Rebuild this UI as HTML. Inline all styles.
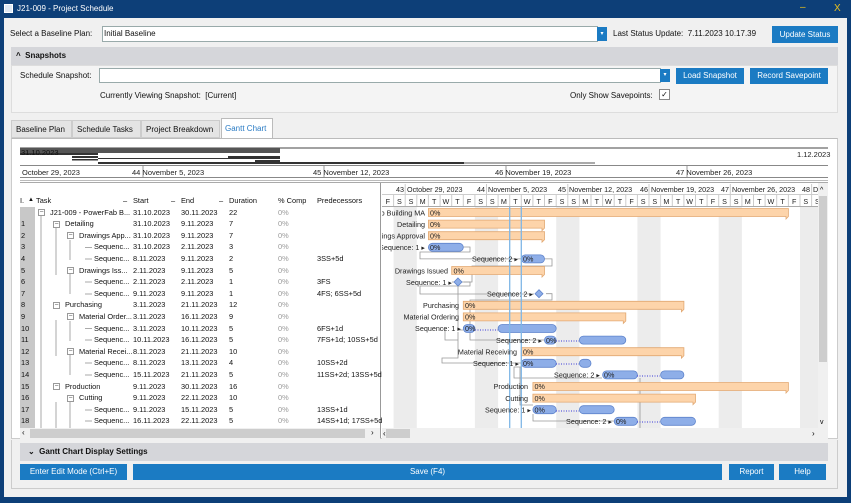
<!DOCTYPE html>
<html><head><meta charset="utf-8"><style>
*{margin:0;padding:0;box-sizing:border-box}
body{width:851px;height:503px;overflow:hidden;background:#0d3f78;font-family:"Liberation Sans",sans-serif;font-size:8px;color:#111;position:relative}
.a{position:absolute;white-space:nowrap}
.btn{position:absolute;background:#1b7bc3;color:#fff;text-align:center;font-size:8px}
.inp{position:absolute;background:#fff;border:1px solid #9aa;}
.dd{position:absolute;background:#1b7bc3;color:#fff;font-size:6px;text-align:center}
.row{position:absolute;left:20px;width:358px;height:12px;font-size:7.4px}
.row span{position:absolute;top:0;white-space:nowrap}
.i{left:1px}.s{left:113px}.e{left:161px}.d{left:209px}.p{left:258px;color:#9a9a9a}.r{left:297px}
.box{position:absolute;width:7px;height:7px;border:1px solid #999;background:#fff;font-size:7px;line-height:5px;text-align:center;color:#555}
</style></head><body>
<div class="a" style="left:4px;top:4px;width:9px;height:9px;background:#dfe8f3;border:1px solid #fff"></div>
<div class="a" style="left:17px;top:4px;color:#fff;font-size:8px">J21-009 - Project Schedule</div>
<div class="a" style="left:800px;top:2px;color:#e8c020;font-size:10px">–</div>
<div class="a" style="left:834px;top:3px;color:#e8c020;font-size:10px">X</div>
<div class="a" style="left:4px;top:18px;width:843px;height:479px;background:#f0f0f0"></div>
<div class="a" style="left:10px;top:29px">Select a Baseline Plan:</div>
<div class="inp" style="left:102px;top:26px;width:496px;height:16px"></div>
<div class="a" style="left:104px;top:29px">Initial Baseline</div>
<div class="dd" style="left:597px;top:27px;width:10px;height:14px;line-height:14px">▾</div>
<div class="a" style="left:613px;top:29px">Last Status Update:&nbsp; 7.11.2023 10.17.39</div>
<div class="btn" style="left:772px;top:26px;width:66px;height:17px;line-height:17px">Update Status</div>
<div class="a" style="left:11px;top:47px;width:827px;height:18px;background:#d5d6da"></div>
<div class="a" style="left:16px;top:51px;font-weight:bold">^&nbsp; Snapshots</div>
<div class="a" style="left:11px;top:65px;width:827px;height:48px;background:#f4f4f4;border:1px solid #ddd"></div>
<div class="a" style="left:20px;top:71px">Schedule Snapshot:</div>
<div class="inp" style="left:99px;top:68px;width:562px;height:15px"></div>
<div class="dd" style="left:660px;top:69px;width:10px;height:13px;line-height:13px">▾</div>
<div class="btn" style="left:676px;top:68px;width:68px;height:16px;line-height:16px">Load Snapshot</div>
<div class="btn" style="left:750px;top:68px;width:78px;height:16px;line-height:16px">Record Savepoint</div>
<div class="a" style="left:100px;top:91px">Currently Viewing Snapshot:&nbsp; [Current]</div>
<div class="a" style="left:570px;top:91px">Only Show Savepoints:</div>
<div class="a" style="left:659px;top:89px;width:11px;height:11px;background:#fff;border:1px solid #888;font-size:8px;line-height:9px;text-align:center">✓</div>
<div class="a" style="left:11px;top:120px;width:61px;height:18px;background:#e4e4e4;border:1px solid #ccc;padding:4px 0 0 4px">Baseline Plan</div>
<div class="a" style="left:72px;top:120px;width:69px;height:18px;background:#e4e4e4;border:1px solid #ccc;padding:4px 0 0 4px">Schedule Tasks</div>
<div class="a" style="left:141px;top:120px;width:79px;height:18px;background:#e4e4e4;border:1px solid #ccc;padding:4px 0 0 4px">Project Breakdown</div>
<div class="a" style="left:221px;top:118px;width:52px;height:21px;background:#fff;border:1px solid #bbb;border-bottom:none;padding:5px 0 0 3px;color:#2a7bc4">Gantt Chart</div>
<div class="a" style="left:11px;top:138px;width:827px;height:301px;background:#fff;border:1px solid #ccc;border-top:1px solid #bbb"></div>
<svg class="a" style="left:0;top:0" width="851" height="503">
<line x1="20" y1="148" x2="828" y2="148" stroke="#444" stroke-width="1"/>
<rect x="20" y="148" width="260" height="5" fill="#555"/>
<rect x="20" y="153" width="78" height="2" fill="#333"/>
<rect x="72" y="156" width="26" height="2" fill="#333"/>
<rect x="228" y="156" width="52" height="2" fill="#333"/>
<rect x="72" y="159" width="26" height="1.5" fill="#333"/>
<rect x="98" y="158" width="182" height="1" fill="#333"/>
<rect x="255" y="160" width="25" height="2" fill="#333"/>
<rect x="98" y="162" width="366" height="2" fill="#333"/>
<rect x="464" y="162.5" width="131" height="1" fill="#555"/>
<line x1="20" y1="165.5" x2="828" y2="165.5" stroke="#888"/>
<line x1="20" y1="177.5" x2="828" y2="177.5" stroke="#888"/>
<line x1="20" y1="180.5" x2="828" y2="180.5" stroke="#bbb"/>
<g stroke="#999"><line x1="143" y1="166" x2="143" y2="177"/><line x1="324" y1="166" x2="324" y2="177"/><line x1="506" y1="166" x2="506" y2="177"/><line x1="687" y1="166" x2="687" y2="177"/></g>
<g font-size="7.5" fill="#222" font-family="Liberation Sans, sans-serif">
<text x="21" y="155" fill="#111">31.10.2023</text>
<text x="797" y="157">1.12.2023</text>
<text x="22" y="175">October 29, 2023</text>
<text x="132" y="175">44 November 5, 2023</text>
<text x="313" y="175">45 November 12, 2023</text>
<text x="495" y="175">46 November 19, 2023</text>
<text x="676" y="175">47 November 26, 2023</text>
</g>
<line x1="380.5" y1="182" x2="380.5" y2="438" stroke="#999"/>
<line x1="20" y1="182.5" x2="828" y2="182.5" stroke="#aaa"/>
</svg>
<div class="a" style="left:20px;top:207px;width:15px;height:221px;background:#c8c8c8"></div>
<div class="row" style="top:196px"><span style="left:0">I.</span><span style="left:8px;font-size:6px;top:1px">▲</span><span style="left:16px">Task</span><span style="left:103px">–</span><span class="s">Start</span><span style="left:151px">–</span><span class="e">End</span><span style="left:199px">–</span><span class="d">Duration</span><span style="left:258px">% Comp</span><span class="r">Predecessors</span></div>
<svg class="a" style="left:0;top:0" width="380" height="430">
<g stroke="#aaa" fill="none">
<line x1="41" y1="216" x2="41" y2="428"/>
<line x1="56" y1="228" x2="56" y2="275"/><line x1="56" y1="320" x2="56" y2="356"/><line x1="56" y1="402" x2="56" y2="428"/>
<line x1="70" y1="240" x2="70" y2="260"/><line x1="70" y1="274" x2="70" y2="294"/><line x1="70" y1="321" x2="70" y2="341"/><line x1="70" y1="355" x2="70" y2="375"/><line x1="70" y1="402" x2="70" y2="428"/>
<line x1="85" y1="247.5" x2="92" y2="247.5"/><line x1="85" y1="259" x2="92" y2="259"/><line x1="85" y1="282" x2="92" y2="282"/><line x1="85" y1="294" x2="92" y2="294"/><line x1="85" y1="328.5" x2="92" y2="328.5"/><line x1="85" y1="340" x2="92" y2="340"/><line x1="85" y1="363" x2="92" y2="363"/><line x1="85" y1="375" x2="92" y2="375"/><line x1="85" y1="410" x2="92" y2="410"/><line x1="85" y1="421" x2="92" y2="421"/>
</g>
</svg>
<div class="box" style="left:38px;top:209px">−</div>
<div class="box" style="left:53px;top:221px">−</div>
<div class="box" style="left:67px;top:232px">−</div>
<div class="box" style="left:67px;top:267px">−</div>
<div class="box" style="left:53px;top:302px">−</div>
<div class="box" style="left:67px;top:313px">−</div>
<div class="box" style="left:67px;top:348px">−</div>
<div class="box" style="left:53px;top:383px">−</div>
<div class="box" style="left:67px;top:395px">−</div>
<div class="row" style="top:207.5px"><span class="i"></span><span style="left:30px">J21-009 - PowerFab B...</span><span class="s">31.10.2023</span><span class="e">30.11.2023</span><span class="d">22</span><span class="p">0%</span></div>
<div class="row" style="top:219.1px"><span class="i">1</span><span style="left:45px">Detailing</span><span class="s">31.10.2023</span><span class="e">9.11.2023</span><span class="d">7</span><span class="p">0%</span></div>
<div class="row" style="top:230.7px"><span class="i">2</span><span style="left:59px">Drawings App...</span><span class="s">31.10.2023</span><span class="e">9.11.2023</span><span class="d">7</span><span class="p">0%</span></div>
<div class="row" style="top:242.3px"><span class="i">3</span><span style="left:74px">Sequenc...</span><span class="s">31.10.2023</span><span class="e">2.11.2023</span><span class="d">3</span><span class="p">0%</span></div>
<div class="row" style="top:253.9px"><span class="i">4</span><span style="left:74px">Sequenc...</span><span class="s">8.11.2023</span><span class="e">9.11.2023</span><span class="d">2</span><span class="p">0%</span><span class="r">3SS+5d</span></div>
<div class="row" style="top:265.5px"><span class="i">5</span><span style="left:59px">Drawings Iss...</span><span class="s">2.11.2023</span><span class="e">9.11.2023</span><span class="d">5</span><span class="p">0%</span></div>
<div class="row" style="top:277.1px"><span class="i">6</span><span style="left:74px">Sequenc...</span><span class="s">2.11.2023</span><span class="e">2.11.2023</span><span class="d">1</span><span class="p">0%</span><span class="r">3FS</span></div>
<div class="row" style="top:288.7px"><span class="i">7</span><span style="left:74px">Sequenc...</span><span class="s">9.11.2023</span><span class="e">9.11.2023</span><span class="d">1</span><span class="p">0%</span><span class="r">4FS; 6SS+5d</span></div>
<div class="row" style="top:300.3px"><span class="i">8</span><span style="left:45px">Purchasing</span><span class="s">3.11.2023</span><span class="e">21.11.2023</span><span class="d">12</span><span class="p">0%</span></div>
<div class="row" style="top:311.9px"><span class="i">9</span><span style="left:59px">Material Order...</span><span class="s">3.11.2023</span><span class="e">16.11.2023</span><span class="d">9</span><span class="p">0%</span></div>
<div class="row" style="top:323.5px"><span class="i">10</span><span style="left:74px">Sequenc...</span><span class="s">3.11.2023</span><span class="e">10.11.2023</span><span class="d">5</span><span class="p">0%</span><span class="r">6FS+1d</span></div>
<div class="row" style="top:335.1px"><span class="i">11</span><span style="left:74px">Sequenc...</span><span class="s">10.11.2023</span><span class="e">16.11.2023</span><span class="d">5</span><span class="p">0%</span><span class="r">7FS+1d; 10SS+5d</span></div>
<div class="row" style="top:346.7px"><span class="i">12</span><span style="left:59px">Material Recei...</span><span class="s">8.11.2023</span><span class="e">21.11.2023</span><span class="d">10</span><span class="p">0%</span></div>
<div class="row" style="top:358.3px"><span class="i">13</span><span style="left:74px">Sequenc...</span><span class="s">8.11.2023</span><span class="e">13.11.2023</span><span class="d">4</span><span class="p">0%</span><span class="r">10SS+2d</span></div>
<div class="row" style="top:369.9px"><span class="i">14</span><span style="left:74px">Sequenc...</span><span class="s">15.11.2023</span><span class="e">21.11.2023</span><span class="d">5</span><span class="p">0%</span><span class="r">11SS+2d; 13SS+5d</span></div>
<div class="row" style="top:381.5px"><span class="i">15</span><span style="left:45px">Production</span><span class="s">9.11.2023</span><span class="e">30.11.2023</span><span class="d">16</span><span class="p">0%</span></div>
<div class="row" style="top:393.1px"><span class="i">16</span><span style="left:59px">Cutting</span><span class="s">9.11.2023</span><span class="e">22.11.2023</span><span class="d">10</span><span class="p">0%</span></div>
<div class="row" style="top:404.7px"><span class="i">17</span><span style="left:74px">Sequenc...</span><span class="s">9.11.2023</span><span class="e">15.11.2023</span><span class="d">5</span><span class="p">0%</span><span class="r">13SS+1d</span></div>
<div class="row" style="top:416.3px"><span class="i">18</span><span style="left:74px">Sequenc...</span><span class="s">16.11.2023</span><span class="e">22.11.2023</span><span class="d">5</span><span class="p">0%</span><span class="r">14SS+1d; 17SS+5d</span></div>
<div class="a" style="left:20px;top:428px;width:360px;height:11px;background:#f0f0f0"></div>
<div class="a" style="left:30px;top:429px;width:335px;height:9px;background:#cdcdcd"></div>
<div class="a" style="left:22px;top:428px;font-size:8px">‹</div>
<div class="a" style="left:371px;top:428px;font-size:8px">›</div>
<svg class="a" style="left:382px;top:183px" width="446" height="256" viewBox="382 183 446 256" font-family="Liberation Sans, sans-serif" font-size="7.2">
<rect x="382" y="183" width="446" height="256" fill="#fff"/>
<g fill="#ececec">
<rect x="393.6" y="207" width="23.2" height="221"/><rect x="474.9" y="207" width="23.2" height="221"/><rect x="556.2" y="207" width="23.2" height="221"/><rect x="637.4" y="207" width="23.2" height="221"/><rect x="718.7" y="207" width="23.2" height="221"/><rect x="800" y="207" width="18" height="221"/>
</g>
<line x1="382" y1="194.5" x2="818" y2="194.5" stroke="#ccc"/>
<line x1="382" y1="206.5" x2="818" y2="206.5" stroke="#aaa"/>
<g stroke="#ccc">
<line x1="405.2" y1="184" x2="405.2" y2="206"/><line x1="486.5" y1="184" x2="486.5" y2="206"/><line x1="567.8" y1="184" x2="567.8" y2="206"/><line x1="649" y1="184" x2="649" y2="206"/><line x1="730.3" y1="184" x2="730.3" y2="206"/><line x1="811.6" y1="184" x2="811.6" y2="206"/>
<line x1="393.6" y1="195" x2="393.6" y2="206"/><line x1="416.8" y1="195" x2="416.8" y2="206"/><line x1="428.4" y1="195" x2="428.4" y2="206"/><line x1="440.1" y1="195" x2="440.1" y2="206"/><line x1="451.7" y1="195" x2="451.7" y2="206"/><line x1="463.3" y1="195" x2="463.3" y2="206"/><line x1="474.9" y1="195" x2="474.9" y2="206"/><line x1="498.1" y1="195" x2="498.1" y2="206"/><line x1="509.7" y1="195" x2="509.7" y2="206"/><line x1="521.3" y1="195" x2="521.3" y2="206"/><line x1="532.9" y1="195" x2="532.9" y2="206"/><line x1="544.5" y1="195" x2="544.5" y2="206"/><line x1="556.2" y1="195" x2="556.2" y2="206"/><line x1="579.4" y1="195" x2="579.4" y2="206"/><line x1="591" y1="195" x2="591" y2="206"/><line x1="602.6" y1="195" x2="602.6" y2="206"/><line x1="614.2" y1="195" x2="614.2" y2="206"/><line x1="625.8" y1="195" x2="625.8" y2="206"/><line x1="637.4" y1="195" x2="637.4" y2="206"/><line x1="660.6" y1="195" x2="660.6" y2="206"/><line x1="672.3" y1="195" x2="672.3" y2="206"/><line x1="683.9" y1="195" x2="683.9" y2="206"/><line x1="695.5" y1="195" x2="695.5" y2="206"/><line x1="707.1" y1="195" x2="707.1" y2="206"/><line x1="718.7" y1="195" x2="718.7" y2="206"/><line x1="741.9" y1="195" x2="741.9" y2="206"/><line x1="753.5" y1="195" x2="753.5" y2="206"/><line x1="765.1" y1="195" x2="765.1" y2="206"/><line x1="776.7" y1="195" x2="776.7" y2="206"/><line x1="788.4" y1="195" x2="788.4" y2="206"/><line x1="800" y1="195" x2="800" y2="206"/><line x1="823.2" y1="195" x2="823.2" y2="206"/>
</g>
<g fill="#222" font-size="7.2">
<text x="404" y="192" text-anchor="end">43</text><text x="407" y="192">October 29, 2023</text>
<text x="485" y="192" text-anchor="end">44</text><text x="488" y="192">November 5, 2023</text>
<text x="566" y="192" text-anchor="end">45</text><text x="569" y="192">November 12, 2023</text>
<text x="648" y="192" text-anchor="end">46</text><text x="651" y="192">November 19, 2023</text>
<text x="729" y="192" text-anchor="end">47</text><text x="732" y="192">November 26, 2023</text>
<text x="810" y="192" text-anchor="end">48</text><text x="813" y="192">D</text>
</g>
<g fill="#222" font-size="7.2" text-anchor="middle">
<text x="387.8" y="204">F</text><text x="399.4" y="204">S</text><text x="411" y="204">S</text><text x="422.6" y="204">M</text><text x="434.2" y="204">T</text><text x="445.9" y="204">W</text><text x="457.5" y="204">T</text>
<text x="469.1" y="204">F</text><text x="480.7" y="204">S</text><text x="492.3" y="204">S</text><text x="503.9" y="204">M</text><text x="515.5" y="204">T</text><text x="527.1" y="204">W</text><text x="538.7" y="204">T</text>
<text x="550.3" y="204">F</text><text x="562" y="204">S</text><text x="573.6" y="204">S</text><text x="585.2" y="204">M</text><text x="596.8" y="204">T</text><text x="608.4" y="204">W</text><text x="620" y="204">T</text>
<text x="631.6" y="204">F</text><text x="643.2" y="204">S</text><text x="654.8" y="204">S</text><text x="666.4" y="204">M</text><text x="678.1" y="204">T</text><text x="689.7" y="204">W</text><text x="701.3" y="204">T</text>
<text x="712.9" y="204">F</text><text x="724.5" y="204">S</text><text x="736.1" y="204">S</text><text x="747.7" y="204">M</text><text x="759.3" y="204">T</text><text x="770.9" y="204">W</text><text x="782.6" y="204">T</text>
<text x="794.2" y="204">F</text><text x="805.8" y="204">S</text><text x="817.4" y="204">S</text>
</g>
<g stroke="#999" fill="none" stroke-width="0.8">
<path d="M463 247 H470 V252 H420 V258.9 H521"/>
<path d="M544 258.9 H552 V266 H472 V282 H452"/>
<path d="M464 282 H470 V286 H420 V294 H534"/>
<path d="M546 293.7 H552 V300 H470 V340 H544"/>
<path d="M458 286 V330 H463"/>
<path d="M445 328.5 V340 H458"/>
<path d="M458 332 V358 H442 V363 H521"/>
<path d="M521 367 H514 V378 H602"/>
<path d="M520 367 V405 H533"/>
<path d="M533 414 V421 H614"/>
<path d="M640 378 V428"/>
</g>
<g fill="#fdd4aa" stroke="#e2a872" stroke-width="0.8">
<path d="M428.4 208.5 H788.4 V216.5 L786 219 V216.5 H428.4 Z"/>
<path d="M428.4 220.1 H544.5 V228.1 L542 230.6 V228.1 H428.4 Z"/>
<path d="M428.4 231.7 H544.5 V239.7 L542 242.2 V239.7 H428.4 Z"/>
<path d="M451.7 266.5 H544.5 V274.5 L542 277 V274.5 H451.7 Z"/>
<path d="M463.3 301.3 H683.9 V309.3 L681.4 311.8 V309.3 H463.3 Z"/>
<path d="M463.3 312.9 H625.8 V320.9 L623.3 323.4 V320.9 H463.3 Z"/>
<path d="M521.3 347.7 H683.9 V355.7 L681.4 358.2 V355.7 H521.3 Z"/>
<path d="M532.9 382.5 H788.4 V390.5 L786 393 V390.5 H532.9 Z"/>
<path d="M532.9 394.1 H695.5 V402.1 L693 404.6 V402.1 H532.9 Z"/>
</g>
<g fill="#8eaee8" stroke="#5f84cc" stroke-width="0.8">
<rect x="428.4" y="243.3" width="34.9" height="8" rx="4"/>
<rect x="521.3" y="254.9" width="23.2" height="8" rx="4"/>
<rect x="463.3" y="324.5" width="11.6" height="8" rx="4"/><rect x="498.1" y="324.5" width="58.1" height="8" rx="4"/>
<rect x="544.5" y="336.1" width="11.6" height="8" rx="4"/><rect x="579.4" y="336.1" width="46.4" height="8" rx="4"/>
<rect x="521.3" y="359.3" width="34.9" height="8" rx="4"/><rect x="579.4" y="359.3" width="11.6" height="8" rx="4"/>
<rect x="602.6" y="370.9" width="34.8" height="8" rx="4"/><rect x="660.6" y="370.9" width="23.3" height="8" rx="4"/>
<rect x="532.9" y="405.7" width="23.3" height="8" rx="4"/><rect x="579.4" y="405.7" width="34.8" height="8" rx="4"/>
<rect x="614.2" y="417.3" width="23.2" height="8" rx="4"/><rect x="660.6" y="417.3" width="34.9" height="8" rx="4"/>
<path d="M458 278 L462 282 L458 286 L454 282 Z"/>
<path d="M539 289.7 L543 293.7 L539 297.7 L535 293.7 Z"/>
</g>
<g stroke="#3a3ad8" stroke-dasharray="1 1.5" stroke-width="1">
<line x1="475" y1="330" x2="498" y2="330"/><line x1="556" y1="341" x2="579" y2="341"/><line x1="556" y1="364" x2="579" y2="364"/><line x1="637" y1="376" x2="660" y2="376"/><line x1="556" y1="411" x2="579" y2="411"/><line x1="637" y1="422" x2="660" y2="422"/>
</g>
<line x1="509.7" y1="207" x2="509.7" y2="428" stroke="#7fb6e6" stroke-width="1.3"/>
<line x1="521.3" y1="207" x2="521.3" y2="428" stroke="#7fb6e6" stroke-width="1.3"/>
<g fill="#222" font-size="7.2">
<text x="430" y="215.5">0%</text><text x="430" y="227">0%</text><text x="430" y="238.5">0%</text><text x="430" y="250">0%</text><text x="523" y="261.5">0%</text><text x="453.5" y="273.5">0%</text>
<text x="465" y="308">0%</text><text x="465" y="319.5">0%</text><text x="465" y="331">0%</text><text x="546" y="343">0%</text><text x="523" y="354.5">0%</text><text x="523" y="366">0%</text><text x="604" y="377.5">0%</text>
<text x="534.5" y="389">0%</text><text x="534.5" y="401">0%</text><text x="534.5" y="412.5">0%</text><text x="616" y="424">0%</text>
</g>
<g fill="#222" font-size="7.2" text-anchor="end">
<text x="425" y="215.5">J21-009 - PowerFab Building MA</text>
<text x="425" y="227">Detailing</text>
<text x="425" y="238.5">Drawings Approval</text>
<text x="425" y="250">Sequence: 1 ▸</text>
<text x="518" y="261.5">Sequence: 2 ▸</text>
<text x="448" y="273.5">Drawings Issued</text>
<text x="452" y="285">Sequence: 1 ▸</text>
<text x="533" y="296.5">Sequence: 2 ▸</text>
<text x="459" y="308">Purchasing</text>
<text x="459" y="319.5">Material Ordering</text>
<text x="461" y="331">Sequence: 1 ▸</text>
<text x="542" y="343">Sequence: 2 ▸</text>
<text x="517" y="354.5">Material Receiving</text>
<text x="519" y="366">Sequence: 1 ▸</text>
<text x="600" y="377.5">Sequence: 2 ▸</text>
<text x="528" y="389">Production</text>
<text x="528" y="401">Cutting</text>
<text x="531" y="412.5">Sequence: 1 ▸</text>
<text x="612" y="424">Sequence: 2 ▸</text>
</g>
<rect x="818" y="183" width="10" height="245" fill="#f0f0f0"/>
<rect x="819" y="196" width="8" height="166" fill="#cdcdcd"/>
<text x="820" y="192" font-size="7">^</text><text x="820" y="424" font-size="7">v</text>
<rect x="382" y="428" width="446" height="11" fill="#f0f0f0"/>
<rect x="386" y="429" width="24" height="9" fill="#cdcdcd"/>
<text x="383" y="436" font-size="8">‹</text><text x="812" y="436" font-size="8">›</text>
</svg>
<div class="a" style="left:20px;top:443px;width:808px;height:18px;background:#d5d6da"></div>
<div class="a" style="left:28px;top:447px;font-weight:bold;font-size:8px">⌄&nbsp; Gantt Chart Display Settings</div>
<div class="btn" style="left:20px;top:464px;width:107px;height:16px;line-height:16px">Enter Edit Mode (Ctrl+E)</div>
<div class="btn" style="left:133px;top:464px;width:589px;height:16px;line-height:16px">Save (F4)</div>
<div class="btn" style="left:729px;top:464px;width:45px;height:16px;line-height:16px">Report</div>
<div class="btn" style="left:779px;top:464px;width:47px;height:16px;line-height:16px">Help</div>
<div class="a" style="left:11px;top:440px;width:827px;height:49px;border:1px solid #ccc;border-top:none"></div>
</body></html>
